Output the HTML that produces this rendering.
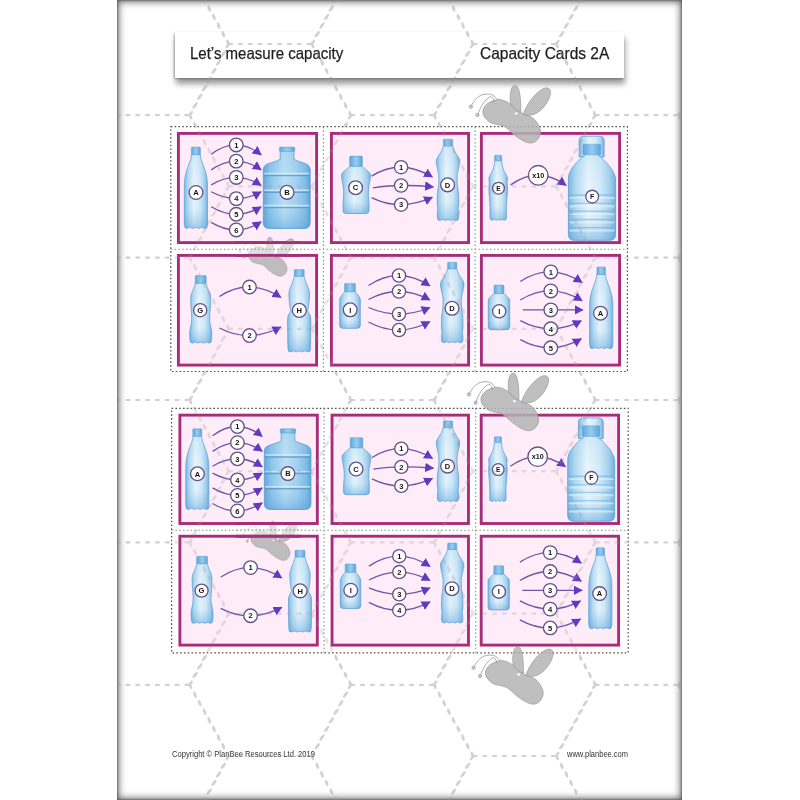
<!DOCTYPE html>
<html><head><meta charset="utf-8"><style>
html,body{margin:0;padding:0;background:#fff;width:800px;height:800px;overflow:hidden}
body{position:relative;font-family:"Liberation Sans",sans-serif}
.page{position:absolute;left:117px;top:0;width:565px;height:800px;background:#fff;box-shadow:inset 0 0 7px 2px rgba(0,0,0,.55),inset 0 0 2px 1px rgba(0,0,0,.3)}
.title{position:absolute;left:174.5px;top:31.5px;width:449.5px;height:46px;background:#fff;box-shadow:1px 6px 6px rgba(0,0,0,.4),-1px 1px 2px rgba(0,0,0,.28)}
.t{position:absolute;font-size:16.5px;color:#1e1e1e;-webkit-text-stroke:0.25px #1e1e1e;white-space:nowrap;line-height:1;transform-origin:0 0}
.f{position:absolute;font-size:8.5px;color:#333;white-space:nowrap;line-height:1;transform-origin:0 0}
svg{position:absolute;left:0;top:0}
#w{position:absolute;left:0;top:0;width:800px;height:800px;filter:blur(0.35px)}
</style></head><body><div id="w">
<div class="page"></div>
<div class="title"></div>
<div class="t" style="left:189.5px;top:45px;transform:scaleX(0.91)">Let’s measure capacity</div>
<div class="t" style="left:480px;top:45px;transform:scaleX(0.94)">Capacity Cards 2A</div>
<div class="f" style="left:172px;top:750.3px;transform:scaleX(0.892)">Copyright © PlanBee Resources Ltd. 2019</div>
<div class="f" style="left:567px;top:750.3px;transform:scaleX(0.885)">www.planbee.com</div>
<svg width="800" height="800" viewBox="0 0 800 800" font-family="Liberation Sans, sans-serif">
<defs>
<linearGradient id="bg" x1="0" x2="1" y1="0" y2="0">
<stop offset="0" stop-color="#7ab7e1"/><stop offset="0.16" stop-color="#b4daf2"/><stop offset="0.42" stop-color="#e8f5fc"/><stop offset="0.68" stop-color="#d2eaf8"/><stop offset="0.88" stop-color="#a3cfed"/><stop offset="1" stop-color="#72b1de"/>
</linearGradient>
<linearGradient id="jg" x1="0" x2="1" y1="0" y2="0">
<stop offset="0" stop-color="#62a6d9"/><stop offset="0.15" stop-color="#8cc5eb"/><stop offset="0.45" stop-color="#bde0f5"/><stop offset="0.7" stop-color="#a4d1ef"/><stop offset="0.9" stop-color="#80bde7"/><stop offset="1" stop-color="#5ca2d7"/>
</linearGradient>
<linearGradient id="bv" x1="0" x2="0" y1="0" y2="1">
<stop offset="0" stop-color="#6fb2e0" stop-opacity="0.15"/><stop offset="0.35" stop-color="#6fb2e0" stop-opacity="0"/><stop offset="0.75" stop-color="#6fb2e0" stop-opacity="0.05"/><stop offset="1" stop-color="#4a9ad6" stop-opacity="0.45"/>
</linearGradient>
<linearGradient id="cg" x1="0" x2="1" y1="0" y2="0">
<stop offset="0" stop-color="#5ea7dc"/><stop offset="0.5" stop-color="#98cdef"/><stop offset="1" stop-color="#5aa4da"/>
</linearGradient>
<marker id="ah" markerUnits="userSpaceOnUse" markerWidth="10" markerHeight="10" refX="7.6" refY="4.5" orient="auto" viewBox="0 0 9 9">
<path d="M0 0.2L8 4.5L0 8.8Z" fill="#6338c2"/>
</marker>
<g id="blk"><rect x="178.4" y="133.4" width="138.2" height="109.2" fill="#feecf8" stroke="#a82d78" stroke-width="2.9"/><rect x="331.4" y="133.4" width="137.2" height="109.2" fill="#feecf8" stroke="#a82d78" stroke-width="2.9"/><rect x="481.4" y="133.4" width="138.2" height="109.2" fill="#feecf8" stroke="#a82d78" stroke-width="2.9"/><rect x="178.4" y="255.4" width="138.2" height="109.7" fill="#feecf8" stroke="#a82d78" stroke-width="2.9"/><rect x="331.4" y="255.4" width="137.2" height="109.7" fill="#feecf8" stroke="#a82d78" stroke-width="2.9"/><rect x="481.4" y="255.4" width="138.2" height="109.7" fill="#feecf8" stroke="#a82d78" stroke-width="2.9"/><path d="M191.30 154.50 C191.27 155.08 191.35 156.75 191.10 158.00 C190.85 159.25 190.30 160.58 189.80 162.00 C189.30 163.42 188.62 165.08 188.10 166.50 C187.58 167.92 187.13 169.10 186.70 170.50 C186.27 171.90 185.82 173.48 185.50 174.90 C185.18 176.32 184.98 177.58 184.80 179.00 C184.62 180.42 184.48 179.90 184.40 183.40 C184.32 186.90 184.32 193.57 184.30 200.00 C184.28 206.43 184.27 217.75 184.30 222.00 C184.33 226.25 184.47 224.92 184.50 225.50 Q184.50 228.40 187.00 228.40 Q189.97 226.20 192.93 228.40 Q195.90 226.20 198.87 228.40 Q201.83 226.20 204.80 228.40 Q207.30 228.40 207.30 225.50 C207.33 224.92 207.47 226.25 207.50 222.00 C207.53 217.75 207.52 206.43 207.50 200.00 C207.48 193.57 207.48 186.90 207.40 183.40 C207.32 179.90 207.18 180.42 207.00 179.00 C206.82 177.58 206.62 176.32 206.30 174.90 C205.98 173.48 205.53 171.90 205.10 170.50 C204.67 169.10 204.22 167.92 203.70 166.50 C203.18 165.08 202.50 163.42 202.00 162.00 C201.50 160.58 200.95 159.25 200.70 158.00 C200.45 156.75 200.53 155.08 200.50 154.50 Z" fill="url(#bg)" stroke="#5d9fd1" stroke-width="0.75"/><path d="M191.30 154.50 C191.27 155.08 191.35 156.75 191.10 158.00 C190.85 159.25 190.30 160.58 189.80 162.00 C189.30 163.42 188.62 165.08 188.10 166.50 C187.58 167.92 187.13 169.10 186.70 170.50 C186.27 171.90 185.82 173.48 185.50 174.90 C185.18 176.32 184.98 177.58 184.80 179.00 C184.62 180.42 184.48 179.90 184.40 183.40 C184.32 186.90 184.32 193.57 184.30 200.00 C184.28 206.43 184.27 217.75 184.30 222.00 C184.33 226.25 184.47 224.92 184.50 225.50 Q184.50 228.40 187.00 228.40 Q189.97 226.20 192.93 228.40 Q195.90 226.20 198.87 228.40 Q201.83 226.20 204.80 228.40 Q207.30 228.40 207.30 225.50 C207.33 224.92 207.47 226.25 207.50 222.00 C207.53 217.75 207.52 206.43 207.50 200.00 C207.48 193.57 207.48 186.90 207.40 183.40 C207.32 179.90 207.18 180.42 207.00 179.00 C206.82 177.58 206.62 176.32 206.30 174.90 C205.98 173.48 205.53 171.90 205.10 170.50 C204.67 169.10 204.22 167.92 203.70 166.50 C203.18 165.08 202.50 163.42 202.00 162.00 C201.50 160.58 200.95 159.25 200.70 158.00 C200.45 156.75 200.53 155.08 200.50 154.50 Z" fill="url(#bv)"/><rect x="191.40" y="147.10" width="9.00" height="7.60" rx="0.8" fill="url(#cg)" stroke="#5a9fd2" stroke-width="0.5"/><path d="M280.2 150 L280.2 159.2 C278.2 160.5 275.2 161.5 272.2 162.5 C267.3 163.8 263.3 165 263.3 170 L263.3 222.4 Q263.3 228.4 269.3 228.4 L304.2 228.4 Q310.2 228.4 310.2 222.4 L310.2 170 C310.2 165 306.2 163.8 302.0 162.5 C299.0 161.5 296.0 160.5 294.0 159.2 L294.0 150 Z" fill="url(#jg)" stroke="#5a9cd0" stroke-width="0.8"/><path d="M280.2 150 L280.2 159.2 C278.2 160.5 275.2 161.5 272.2 162.5 C267.3 163.8 263.3 165 263.3 170 L263.3 222.4 Q263.3 228.4 269.3 228.4 L304.2 228.4 Q310.2 228.4 310.2 222.4 L310.2 170 C310.2 165 306.2 163.8 302.0 162.5 C299.0 161.5 296.0 160.5 294.0 159.2 L294.0 150 Z" fill="url(#bv)"/><rect x="279.4" y="147.1" width="15.4" height="4.4" rx="1.2" fill="url(#cg)" stroke="#5a9fd2" stroke-width="0.5"/><path d="M263.9 175.6H309.6" stroke="#4a92c8" stroke-width="1.5" opacity="0.7"/><path d="M264.3 173.6H309.2" stroke="#e6f4fc" stroke-width="1.6" opacity="0.65"/><path d="M263.9 192.2H309.6" stroke="#4a92c8" stroke-width="1.5" opacity="0.7"/><path d="M264.3 190.2H309.2" stroke="#e6f4fc" stroke-width="1.6" opacity="0.65"/><path d="M263.9 207.6H309.6" stroke="#4a92c8" stroke-width="1.5" opacity="0.7"/><path d="M264.3 205.6H309.2" stroke="#e6f4fc" stroke-width="1.6" opacity="0.65"/><circle cx="196.00" cy="192.50" r="6.90" fill="#fff" stroke="#65538a" stroke-width="1.35"/><text x="196.00" y="195.24" font-size="7.6" font-weight="bold" text-anchor="middle" fill="#111">A</text><circle cx="287.00" cy="192.30" r="6.90" fill="#fff" stroke="#65538a" stroke-width="1.35"/><text x="287.00" y="195.04" font-size="7.6" font-weight="bold" text-anchor="middle" fill="#111">B</text><path d="M211.25 154.25Q236.25 135.23 261.25 154.90" fill="none" stroke="#7054aa" stroke-width="1.35" marker-end="url(#ah)"/><circle cx="236.25" cy="144.90" r="6.80" fill="#fff" stroke="#65538a" stroke-width="1.35"/><text x="236.25" y="147.64" font-size="7.6" font-weight="bold" text-anchor="middle" fill="#111">1</text><path d="M211.25 169.90Q236.25 152.30 261.25 169.90" fill="none" stroke="#7054aa" stroke-width="1.35" marker-end="url(#ah)"/><circle cx="236.25" cy="161.10" r="6.80" fill="#fff" stroke="#65538a" stroke-width="1.35"/><text x="236.25" y="163.84" font-size="7.6" font-weight="bold" text-anchor="middle" fill="#111">2</text><path d="M211.25 184.90Q236.25 169.60 261.25 185.50" fill="none" stroke="#7054aa" stroke-width="1.35" marker-end="url(#ah)"/><circle cx="236.25" cy="177.40" r="6.80" fill="#fff" stroke="#65538a" stroke-width="1.35"/><text x="236.25" y="180.14" font-size="7.6" font-weight="bold" text-anchor="middle" fill="#111">3</text><path d="M211.25 191.75Q236.25 205.45 261.25 191.75" fill="none" stroke="#7054aa" stroke-width="1.35" marker-end="url(#ah)"/><circle cx="236.25" cy="198.60" r="6.80" fill="#fff" stroke="#65538a" stroke-width="1.35"/><text x="236.25" y="201.34" font-size="7.6" font-weight="bold" text-anchor="middle" fill="#111">4</text><path d="M211.25 206.75Q236.25 221.75 261.25 206.75" fill="none" stroke="#7054aa" stroke-width="1.35" marker-end="url(#ah)"/><circle cx="236.25" cy="214.25" r="6.80" fill="#fff" stroke="#65538a" stroke-width="1.35"/><text x="236.25" y="216.99" font-size="7.6" font-weight="bold" text-anchor="middle" fill="#111">5</text><path d="M211.25 222.40Q236.25 237.73 261.25 221.75" fill="none" stroke="#7054aa" stroke-width="1.35" marker-end="url(#ah)"/><circle cx="236.25" cy="229.90" r="6.80" fill="#fff" stroke="#65538a" stroke-width="1.35"/><text x="236.25" y="232.64" font-size="7.6" font-weight="bold" text-anchor="middle" fill="#111">6</text><path d="M349.70 166.20 C349.22 166.67 348.12 167.73 346.80 169.00 C345.48 170.27 342.60 171.97 341.80 173.80 C341.00 175.63 341.73 177.63 342.00 180.00 C342.27 182.37 343.13 185.33 343.40 188.00 C343.67 190.67 343.67 193.33 343.60 196.00 C343.53 198.67 343.10 201.83 343.00 204.00 C342.90 206.17 343.00 208.17 343.00 209.00 L343.00 210.50 Q343.00 213.50 346.00 213.50 L366.00 213.50 Q369.00 213.50 369.00 210.50 L369.00 209.00 C369.00 208.17 369.10 206.17 369.00 204.00 C368.90 201.83 368.47 198.67 368.40 196.00 C368.33 193.33 368.33 190.67 368.60 188.00 C368.87 185.33 369.73 182.37 370.00 180.00 C370.27 177.63 371.00 175.63 370.20 173.80 C369.40 171.97 366.52 170.27 365.20 169.00 C363.88 167.73 362.78 166.67 362.30 166.20 Z" fill="url(#bg)" stroke="#5d9fd1" stroke-width="0.75"/><path d="M349.70 166.20 C349.22 166.67 348.12 167.73 346.80 169.00 C345.48 170.27 342.60 171.97 341.80 173.80 C341.00 175.63 341.73 177.63 342.00 180.00 C342.27 182.37 343.13 185.33 343.40 188.00 C343.67 190.67 343.67 193.33 343.60 196.00 C343.53 198.67 343.10 201.83 343.00 204.00 C342.90 206.17 343.00 208.17 343.00 209.00 L343.00 210.50 Q343.00 213.50 346.00 213.50 L366.00 213.50 Q369.00 213.50 369.00 210.50 L369.00 209.00 C369.00 208.17 369.10 206.17 369.00 204.00 C368.90 201.83 368.47 198.67 368.40 196.00 C368.33 193.33 368.33 190.67 368.60 188.00 C368.87 185.33 369.73 182.37 370.00 180.00 C370.27 177.63 371.00 175.63 370.20 173.80 C369.40 171.97 366.52 170.27 365.20 169.00 C363.88 167.73 362.78 166.67 362.30 166.20 Z" fill="url(#bv)"/><rect x="349.65" y="156.10" width="12.70" height="10.10" rx="0.8" fill="url(#cg)" stroke="#5a9fd2" stroke-width="0.5"/><path d="M443.50 145.50 C443.17 146.40 442.35 149.17 441.50 150.90 C440.65 152.63 439.27 154.30 438.40 155.90 C437.52 157.50 436.47 158.67 436.25 160.50 C436.03 162.33 436.69 164.60 437.10 166.90 C437.51 169.20 438.43 171.35 438.70 174.30 C438.97 177.25 438.92 181.33 438.70 184.60 C438.48 187.87 437.63 190.52 437.40 193.90 C437.17 197.28 437.23 202.40 437.30 204.90 C437.37 207.40 437.80 207.40 437.80 208.90 C437.80 210.40 437.37 212.57 437.30 213.90 C437.23 215.23 437.38 216.40 437.40 216.90 Q437.40 220.50 439.90 220.50 Q442.60 218.30 445.30 220.50 Q448.00 218.30 450.70 220.50 Q453.40 218.30 456.10 220.50 Q458.60 220.50 458.60 216.90 C458.62 216.40 458.77 215.23 458.70 213.90 C458.63 212.57 458.20 210.40 458.20 208.90 C458.20 207.40 458.63 207.40 458.70 204.90 C458.77 202.40 458.83 197.28 458.60 193.90 C458.37 190.52 457.52 187.87 457.30 184.60 C457.08 181.33 457.03 177.25 457.30 174.30 C457.57 171.35 458.49 169.20 458.90 166.90 C459.31 164.60 459.97 162.33 459.75 160.50 C459.53 158.67 458.48 157.50 457.60 155.90 C456.73 154.30 455.35 152.63 454.50 150.90 C453.65 149.17 452.83 146.40 452.50 145.50 Z" fill="url(#bg)" stroke="#5d9fd1" stroke-width="0.75"/><path d="M443.50 145.50 C443.17 146.40 442.35 149.17 441.50 150.90 C440.65 152.63 439.27 154.30 438.40 155.90 C437.52 157.50 436.47 158.67 436.25 160.50 C436.03 162.33 436.69 164.60 437.10 166.90 C437.51 169.20 438.43 171.35 438.70 174.30 C438.97 177.25 438.92 181.33 438.70 184.60 C438.48 187.87 437.63 190.52 437.40 193.90 C437.17 197.28 437.23 202.40 437.30 204.90 C437.37 207.40 437.80 207.40 437.80 208.90 C437.80 210.40 437.37 212.57 437.30 213.90 C437.23 215.23 437.38 216.40 437.40 216.90 Q437.40 220.50 439.90 220.50 Q442.60 218.30 445.30 220.50 Q448.00 218.30 450.70 220.50 Q453.40 218.30 456.10 220.50 Q458.60 220.50 458.60 216.90 C458.62 216.40 458.77 215.23 458.70 213.90 C458.63 212.57 458.20 210.40 458.20 208.90 C458.20 207.40 458.63 207.40 458.70 204.90 C458.77 202.40 458.83 197.28 458.60 193.90 C458.37 190.52 457.52 187.87 457.30 184.60 C457.08 181.33 457.03 177.25 457.30 174.30 C457.57 171.35 458.49 169.20 458.90 166.90 C459.31 164.60 459.97 162.33 459.75 160.50 C459.53 158.67 458.48 157.50 457.60 155.90 C456.73 154.30 455.35 152.63 454.50 150.90 C453.65 149.17 452.83 146.40 452.50 145.50 Z" fill="url(#bv)"/><rect x="443.35" y="139.20" width="9.30" height="7.00" rx="0.8" fill="url(#cg)" stroke="#5a9fd2" stroke-width="0.5"/><circle cx="355.60" cy="187.70" r="6.90" fill="#fff" stroke="#65538a" stroke-width="1.35"/><text x="355.60" y="190.44" font-size="7.6" font-weight="bold" text-anchor="middle" fill="#111">C</text><circle cx="447.60" cy="184.80" r="6.90" fill="#fff" stroke="#65538a" stroke-width="1.35"/><text x="447.60" y="187.54" font-size="7.6" font-weight="bold" text-anchor="middle" fill="#111">D</text><path d="M371.60 176.10Q400.15 157.85 432.50 177.00" fill="none" stroke="#7054aa" stroke-width="1.35" marker-end="url(#ah)"/><circle cx="401.10" cy="167.20" r="6.60" fill="#fff" stroke="#65538a" stroke-width="1.35"/><text x="401.10" y="169.94" font-size="7.6" font-weight="bold" text-anchor="middle" fill="#111">1</text><path d="M373.00 187.80Q398.95 183.65 433.50 186.90" fill="none" stroke="#7054aa" stroke-width="1.35" marker-end="url(#ah)"/><circle cx="401.10" cy="185.50" r="6.60" fill="#fff" stroke="#65538a" stroke-width="1.35"/><text x="401.10" y="188.24" font-size="7.6" font-weight="bold" text-anchor="middle" fill="#111">2</text><path d="M371.60 197.60Q400.15 212.00 432.50 197.20" fill="none" stroke="#7054aa" stroke-width="1.35" marker-end="url(#ah)"/><circle cx="401.10" cy="204.70" r="6.60" fill="#fff" stroke="#65538a" stroke-width="1.35"/><text x="401.10" y="207.44" font-size="7.6" font-weight="bold" text-anchor="middle" fill="#111">3</text><path d="M494.60 160.70 C494.53 161.42 494.43 163.62 494.20 165.00 C493.97 166.38 493.63 167.75 493.20 169.00 C492.77 170.25 492.20 171.33 491.60 172.50 C491.00 173.67 490.05 174.92 489.60 176.00 C489.15 177.08 488.95 178.00 488.90 179.00 C488.85 180.00 489.30 180.50 489.30 182.00 C489.30 183.50 488.92 185.83 488.90 188.00 C488.88 190.17 489.02 192.17 489.20 195.00 C489.38 197.83 489.87 201.83 490.00 205.00 C490.13 208.17 490.02 211.92 490.00 214.00 C489.98 216.08 489.92 216.92 489.90 217.50 Q489.90 220.30 492.40 220.30 Q494.33 218.10 496.27 220.30 Q498.20 218.10 500.13 220.30 Q502.07 218.10 504.00 220.30 Q506.50 220.30 506.50 217.50 C506.48 216.92 506.42 216.08 506.40 214.00 C506.38 211.92 506.27 208.17 506.40 205.00 C506.53 201.83 507.02 197.83 507.20 195.00 C507.38 192.17 507.52 190.17 507.50 188.00 C507.48 185.83 507.10 183.50 507.10 182.00 C507.10 180.50 507.55 180.00 507.50 179.00 C507.45 178.00 507.25 177.08 506.80 176.00 C506.35 174.92 505.40 173.67 504.80 172.50 C504.20 171.33 503.63 170.25 503.20 169.00 C502.77 167.75 502.43 166.38 502.20 165.00 C501.97 163.62 501.87 161.42 501.80 160.70 Z" fill="url(#bg)" stroke="#5d9fd1" stroke-width="0.75"/><path d="M494.60 160.70 C494.53 161.42 494.43 163.62 494.20 165.00 C493.97 166.38 493.63 167.75 493.20 169.00 C492.77 170.25 492.20 171.33 491.60 172.50 C491.00 173.67 490.05 174.92 489.60 176.00 C489.15 177.08 488.95 178.00 488.90 179.00 C488.85 180.00 489.30 180.50 489.30 182.00 C489.30 183.50 488.92 185.83 488.90 188.00 C488.88 190.17 489.02 192.17 489.20 195.00 C489.38 197.83 489.87 201.83 490.00 205.00 C490.13 208.17 490.02 211.92 490.00 214.00 C489.98 216.08 489.92 216.92 489.90 217.50 Q489.90 220.30 492.40 220.30 Q494.33 218.10 496.27 220.30 Q498.20 218.10 500.13 220.30 Q502.07 218.10 504.00 220.30 Q506.50 220.30 506.50 217.50 C506.48 216.92 506.42 216.08 506.40 214.00 C506.38 211.92 506.27 208.17 506.40 205.00 C506.53 201.83 507.02 197.83 507.20 195.00 C507.38 192.17 507.52 190.17 507.50 188.00 C507.48 185.83 507.10 183.50 507.10 182.00 C507.10 180.50 507.55 180.00 507.50 179.00 C507.45 178.00 507.25 177.08 506.80 176.00 C506.35 174.92 505.40 173.67 504.80 172.50 C504.20 171.33 503.63 170.25 503.20 169.00 C502.77 167.75 502.43 166.38 502.20 165.00 C501.97 163.62 501.87 161.42 501.80 160.70 Z" fill="url(#bv)"/><rect x="494.65" y="155.20" width="7.10" height="5.50" rx="0.8" fill="url(#cg)" stroke="#5a9fd2" stroke-width="0.5"/><path d="M579.2 157 L579.2 140.5 Q579.2 136.2 583.5 136.2 L599.8 136.2 Q604.1 136.2 604.1 140.5 L604.1 157 Z" fill="url(#bg)" stroke="#5c9fd0" stroke-width="0.8"/><path d="M584.5 152 L584.5 155.8 C581 158 574 164.5 570.6 170.5 C569 173.5 568.4 176 568.4 180 L568.4 234.3 Q568.4 240.3 574.4 240.3 L609.6 240.3 Q615.6 240.3 615.6 234.3 L615.6 180 C615.6 176 614 173.5 612.4 170.5 C609 164.5 602 158 598.5 155.8 L598.5 152 Z" fill="url(#bg)" stroke="#5d9fd1" stroke-width="0.8"/><path d="M584.5 152 L584.5 155.8 C581 158 574 164.5 570.6 170.5 C569 173.5 568.4 176 568.4 180 L568.4 234.3 Q568.4 240.3 574.4 240.3 L609.6 240.3 Q615.6 240.3 615.6 234.3 L615.6 180 C615.6 176 614 173.5 612.4 170.5 C609 164.5 602 158 598.5 155.8 L598.5 152 Z" fill="url(#bv)"/><rect x="583.0" y="144.2" width="17.6" height="10.6" rx="1.2" fill="url(#cg)" stroke="#5a9fd2" stroke-width="0.5"/><path d="M569.0 195.0H615.0" stroke="#6aaedb" stroke-width="1.4" opacity="0.55"/><path d="M569.6 198.0H614.4" stroke="#eef8fe" stroke-width="1.6" opacity="0.6"/><path d="M569.0 203.4H615.0" stroke="#6aaedb" stroke-width="1.4" opacity="0.55"/><path d="M569.6 206.4H614.4" stroke="#eef8fe" stroke-width="1.6" opacity="0.6"/><path d="M569.0 211.2H615.0" stroke="#6aaedb" stroke-width="1.4" opacity="0.55"/><path d="M569.6 214.2H614.4" stroke="#eef8fe" stroke-width="1.6" opacity="0.6"/><path d="M569.0 219.5H615.0" stroke="#6aaedb" stroke-width="1.4" opacity="0.55"/><path d="M569.6 222.5H614.4" stroke="#eef8fe" stroke-width="1.6" opacity="0.6"/><path d="M569.0 227.6H615.0" stroke="#6aaedb" stroke-width="1.4" opacity="0.55"/><path d="M569.6 230.6H614.4" stroke="#eef8fe" stroke-width="1.6" opacity="0.6"/><circle cx="498.50" cy="188.20" r="5.90" fill="#fff" stroke="#65538a" stroke-width="1.35"/><text x="498.50" y="190.58" font-size="6.6" font-weight="bold" text-anchor="middle" fill="#111">E</text><circle cx="592.20" cy="196.60" r="6.40" fill="#fff" stroke="#65538a" stroke-width="1.35"/><text x="592.20" y="199.12" font-size="7.0" font-weight="bold" text-anchor="middle" fill="#111">F</text><path d="M510.70 184.90Q537.95 165.45 566.20 185.40" fill="none" stroke="#7054aa" stroke-width="1.35" marker-end="url(#ah)"/><circle cx="538.20" cy="175.30" r="9.80" fill="#fff" stroke="#65538a" stroke-width="1.35"/><text x="538.20" y="177.89" font-size="7.2" font-weight="bold" text-anchor="middle" fill="#111">x10</text><path d="M195.40 283.00 C195.15 283.83 194.52 286.33 193.90 288.00 C193.28 289.67 192.22 291.50 191.70 293.00 C191.18 294.50 190.93 295.00 190.80 297.00 C190.67 299.00 190.75 301.17 190.90 305.00 C191.05 308.83 191.88 315.67 191.70 320.00 C191.52 324.33 190.12 328.00 189.80 331.00 C189.48 334.00 189.75 336.42 189.80 338.00 C189.85 339.58 190.05 340.08 190.10 340.50 Q190.10 343.10 192.60 343.10 Q195.30 340.90 198.00 343.10 Q200.70 340.90 203.40 343.10 Q206.10 340.90 208.80 343.10 Q211.30 343.10 211.30 340.50 C211.35 340.08 211.55 339.58 211.60 338.00 C211.65 336.42 211.92 334.00 211.60 331.00 C211.28 328.00 209.88 324.33 209.70 320.00 C209.52 315.67 210.35 308.83 210.50 305.00 C210.65 301.17 210.73 299.00 210.60 297.00 C210.47 295.00 210.22 294.50 209.70 293.00 C209.18 291.50 208.12 289.67 207.50 288.00 C206.88 286.33 206.25 283.83 206.00 283.00 Z" fill="url(#bg)" stroke="#5d9fd1" stroke-width="0.75"/><path d="M195.40 283.00 C195.15 283.83 194.52 286.33 193.90 288.00 C193.28 289.67 192.22 291.50 191.70 293.00 C191.18 294.50 190.93 295.00 190.80 297.00 C190.67 299.00 190.75 301.17 190.90 305.00 C191.05 308.83 191.88 315.67 191.70 320.00 C191.52 324.33 190.12 328.00 189.80 331.00 C189.48 334.00 189.75 336.42 189.80 338.00 C189.85 339.58 190.05 340.08 190.10 340.50 Q190.10 343.10 192.60 343.10 Q195.30 340.90 198.00 343.10 Q200.70 340.90 203.40 343.10 Q206.10 340.90 208.80 343.10 Q211.30 343.10 211.30 340.50 C211.35 340.08 211.55 339.58 211.60 338.00 C211.65 336.42 211.92 334.00 211.60 331.00 C211.28 328.00 209.88 324.33 209.70 320.00 C209.52 315.67 210.35 308.83 210.50 305.00 C210.65 301.17 210.73 299.00 210.60 297.00 C210.47 295.00 210.22 294.50 209.70 293.00 C209.18 291.50 208.12 289.67 207.50 288.00 C206.88 286.33 206.25 283.83 206.00 283.00 Z" fill="url(#bv)"/><rect x="195.20" y="275.60" width="11.00" height="7.60" rx="0.8" fill="url(#cg)" stroke="#5a9fd2" stroke-width="0.5"/><path d="M294.40 276.10 C294.10 277.08 293.30 280.02 292.60 282.00 C291.90 283.98 290.80 286.25 290.20 288.00 C289.60 289.75 289.17 290.50 289.00 292.50 C288.83 294.50 289.03 297.58 289.20 300.00 C289.37 302.42 289.80 305.10 290.00 307.00 C290.20 308.90 290.77 309.70 290.40 311.40 C290.03 313.10 288.25 314.10 287.80 317.20 C287.35 320.30 287.68 325.37 287.70 330.00 C287.72 334.63 287.85 341.83 287.90 345.00 C287.95 348.17 287.98 348.33 288.00 349.00 Q288.00 351.90 290.50 351.90 Q293.40 349.70 296.30 351.90 Q299.20 349.70 302.10 351.90 Q305.00 349.70 307.90 351.90 Q310.40 351.90 310.40 349.00 C310.42 348.33 310.45 348.17 310.50 345.00 C310.55 341.83 310.68 334.63 310.70 330.00 C310.72 325.37 311.05 320.30 310.60 317.20 C310.15 314.10 308.37 313.10 308.00 311.40 C307.63 309.70 308.20 308.90 308.40 307.00 C308.60 305.10 309.03 302.42 309.20 300.00 C309.37 297.58 309.57 294.50 309.40 292.50 C309.23 290.50 308.80 289.75 308.20 288.00 C307.60 286.25 306.50 283.98 305.80 282.00 C305.10 280.02 304.30 277.08 304.00 276.10 Z" fill="url(#bg)" stroke="#5d9fd1" stroke-width="0.75"/><path d="M294.40 276.10 C294.10 277.08 293.30 280.02 292.60 282.00 C291.90 283.98 290.80 286.25 290.20 288.00 C289.60 289.75 289.17 290.50 289.00 292.50 C288.83 294.50 289.03 297.58 289.20 300.00 C289.37 302.42 289.80 305.10 290.00 307.00 C290.20 308.90 290.77 309.70 290.40 311.40 C290.03 313.10 288.25 314.10 287.80 317.20 C287.35 320.30 287.68 325.37 287.70 330.00 C287.72 334.63 287.85 341.83 287.90 345.00 C287.95 348.17 287.98 348.33 288.00 349.00 Q288.00 351.90 290.50 351.90 Q293.40 349.70 296.30 351.90 Q299.20 349.70 302.10 351.90 Q305.00 349.70 307.90 351.90 Q310.40 351.90 310.40 349.00 C310.42 348.33 310.45 348.17 310.50 345.00 C310.55 341.83 310.68 334.63 310.70 330.00 C310.72 325.37 311.05 320.30 310.60 317.20 C310.15 314.10 308.37 313.10 308.00 311.40 C307.63 309.70 308.20 308.90 308.40 307.00 C308.60 305.10 309.03 302.42 309.20 300.00 C309.37 297.58 309.57 294.50 309.40 292.50 C309.23 290.50 308.80 289.75 308.20 288.00 C307.60 286.25 306.50 283.98 305.80 282.00 C305.10 280.02 304.30 277.08 304.00 276.10 Z" fill="url(#bv)"/><rect x="294.20" y="269.60" width="10.00" height="6.70" rx="0.8" fill="url(#cg)" stroke="#5a9fd2" stroke-width="0.5"/><circle cx="200.20" cy="310.20" r="6.60" fill="#fff" stroke="#65538a" stroke-width="1.35"/><text x="200.20" y="312.94" font-size="7.6" font-weight="bold" text-anchor="middle" fill="#111">G</text><circle cx="299.30" cy="310.40" r="7.00" fill="#fff" stroke="#65538a" stroke-width="1.35"/><text x="299.30" y="313.14" font-size="7.6" font-weight="bold" text-anchor="middle" fill="#111">H</text><path d="M219.50 296.50Q248.75 277.00 281.00 297.50" fill="none" stroke="#7054aa" stroke-width="1.35" marker-end="url(#ah)"/><circle cx="249.50" cy="287.00" r="6.80" fill="#fff" stroke="#65538a" stroke-width="1.35"/><text x="249.50" y="289.74" font-size="7.6" font-weight="bold" text-anchor="middle" fill="#111">1</text><path d="M219.50 328.00Q248.75 343.50 281.00 327.00" fill="none" stroke="#7054aa" stroke-width="1.35" marker-end="url(#ah)"/><circle cx="249.50" cy="335.50" r="6.80" fill="#fff" stroke="#65538a" stroke-width="1.35"/><text x="249.50" y="338.24" font-size="7.6" font-weight="bold" text-anchor="middle" fill="#111">2</text><path d="M344.80 291.50 C344.40 292.00 343.18 293.42 342.40 294.50 C341.62 295.58 340.55 296.92 340.10 298.00 C339.65 299.08 339.77 297.33 339.70 301.00 C339.63 304.67 339.70 316.33 339.70 320.00 C339.70 323.67 339.70 322.50 339.70 323.00 L339.70 325.30 Q339.70 328.30 342.70 328.30 L357.30 328.30 Q360.30 328.30 360.30 325.30 L360.30 323.00 C360.30 322.50 360.30 323.67 360.30 320.00 C360.30 316.33 360.37 304.67 360.30 301.00 C360.23 297.33 360.35 299.08 359.90 298.00 C359.45 296.92 358.38 295.58 357.60 294.50 C356.82 293.42 355.60 292.00 355.20 291.50 Z" fill="url(#bg)" stroke="#5d9fd1" stroke-width="0.75"/><path d="M344.80 291.50 C344.40 292.00 343.18 293.42 342.40 294.50 C341.62 295.58 340.55 296.92 340.10 298.00 C339.65 299.08 339.77 297.33 339.70 301.00 C339.63 304.67 339.70 316.33 339.70 320.00 C339.70 323.67 339.70 322.50 339.70 323.00 L339.70 325.30 Q339.70 328.30 342.70 328.30 L357.30 328.30 Q360.30 328.30 360.30 325.30 L360.30 323.00 C360.30 322.50 360.30 323.67 360.30 320.00 C360.30 316.33 360.37 304.67 360.30 301.00 C360.23 297.33 360.35 299.08 359.90 298.00 C359.45 296.92 358.38 295.58 357.60 294.50 C356.82 293.42 355.60 292.00 355.20 291.50 Z" fill="url(#bv)"/><rect x="344.60" y="283.40" width="10.80" height="8.30" rx="0.8" fill="url(#cg)" stroke="#5a9fd2" stroke-width="0.5"/><path d="M447.70 268.60 C447.37 269.50 446.55 272.27 445.70 274.00 C444.85 275.73 443.47 277.40 442.60 279.00 C441.72 280.60 440.67 281.77 440.45 283.60 C440.23 285.43 440.89 287.70 441.30 290.00 C441.71 292.30 442.63 294.45 442.90 297.40 C443.17 300.35 443.12 304.43 442.90 307.70 C442.68 310.97 441.83 313.62 441.60 317.00 C441.37 320.38 441.43 325.50 441.50 328.00 C441.57 330.50 442.00 330.50 442.00 332.00 C442.00 333.50 441.57 335.67 441.50 337.00 C441.43 338.33 441.58 339.50 441.60 340.00 Q441.60 342.80 444.10 342.80 Q446.80 340.60 449.50 342.80 Q452.20 340.60 454.90 342.80 Q457.60 340.60 460.30 342.80 Q462.80 342.80 462.80 340.00 C462.82 339.50 462.97 338.33 462.90 337.00 C462.83 335.67 462.40 333.50 462.40 332.00 C462.40 330.50 462.83 330.50 462.90 328.00 C462.97 325.50 463.03 320.38 462.80 317.00 C462.57 313.62 461.72 310.97 461.50 307.70 C461.28 304.43 461.23 300.35 461.50 297.40 C461.77 294.45 462.69 292.30 463.10 290.00 C463.51 287.70 464.17 285.43 463.95 283.60 C463.73 281.77 462.68 280.60 461.80 279.00 C460.93 277.40 459.55 275.73 458.70 274.00 C457.85 272.27 457.03 269.50 456.70 268.60 Z" fill="url(#bg)" stroke="#5d9fd1" stroke-width="0.75"/><path d="M447.70 268.60 C447.37 269.50 446.55 272.27 445.70 274.00 C444.85 275.73 443.47 277.40 442.60 279.00 C441.72 280.60 440.67 281.77 440.45 283.60 C440.23 285.43 440.89 287.70 441.30 290.00 C441.71 292.30 442.63 294.45 442.90 297.40 C443.17 300.35 443.12 304.43 442.90 307.70 C442.68 310.97 441.83 313.62 441.60 317.00 C441.37 320.38 441.43 325.50 441.50 328.00 C441.57 330.50 442.00 330.50 442.00 332.00 C442.00 333.50 441.57 335.67 441.50 337.00 C441.43 338.33 441.58 339.50 441.60 340.00 Q441.60 342.80 444.10 342.80 Q446.80 340.60 449.50 342.80 Q452.20 340.60 454.90 342.80 Q457.60 340.60 460.30 342.80 Q462.80 342.80 462.80 340.00 C462.82 339.50 462.97 338.33 462.90 337.00 C462.83 335.67 462.40 333.50 462.40 332.00 C462.40 330.50 462.83 330.50 462.90 328.00 C462.97 325.50 463.03 320.38 462.80 317.00 C462.57 313.62 461.72 310.97 461.50 307.70 C461.28 304.43 461.23 300.35 461.50 297.40 C461.77 294.45 462.69 292.30 463.10 290.00 C463.51 287.70 464.17 285.43 463.95 283.60 C463.73 281.77 462.68 280.60 461.80 279.00 C460.93 277.40 459.55 275.73 458.70 274.00 C457.85 272.27 457.03 269.50 456.70 268.60 Z" fill="url(#bv)"/><rect x="447.60" y="262.30" width="9.20" height="6.50" rx="0.8" fill="url(#cg)" stroke="#5a9fd2" stroke-width="0.5"/><circle cx="350.20" cy="309.80" r="6.90" fill="#fff" stroke="#65538a" stroke-width="1.35"/><text x="350.20" y="312.54" font-size="7.6" font-weight="bold" text-anchor="middle" fill="#111">I</text><circle cx="452.00" cy="308.30" r="6.90" fill="#fff" stroke="#65538a" stroke-width="1.35"/><text x="452.00" y="311.04" font-size="7.6" font-weight="bold" text-anchor="middle" fill="#111">D</text><path d="M368.50 285.50Q398.75 265.25 430.00 286.00" fill="none" stroke="#7054aa" stroke-width="1.35" marker-end="url(#ah)"/><circle cx="399.00" cy="275.50" r="6.60" fill="#fff" stroke="#65538a" stroke-width="1.35"/><text x="399.00" y="278.24" font-size="7.6" font-weight="bold" text-anchor="middle" fill="#111">1</text><path d="M368.50 299.50Q398.75 283.25 430.00 300.00" fill="none" stroke="#7054aa" stroke-width="1.35" marker-end="url(#ah)"/><circle cx="399.00" cy="291.50" r="6.60" fill="#fff" stroke="#65538a" stroke-width="1.35"/><text x="399.00" y="294.24" font-size="7.6" font-weight="bold" text-anchor="middle" fill="#111">2</text><path d="M368.50 307.50Q398.75 320.50 430.00 307.50" fill="none" stroke="#7054aa" stroke-width="1.35" marker-end="url(#ah)"/><circle cx="399.00" cy="314.00" r="6.60" fill="#fff" stroke="#65538a" stroke-width="1.35"/><text x="399.00" y="316.74" font-size="7.6" font-weight="bold" text-anchor="middle" fill="#111">3</text><path d="M368.50 322.00Q398.75 338.25 430.00 321.50" fill="none" stroke="#7054aa" stroke-width="1.35" marker-end="url(#ah)"/><circle cx="399.00" cy="330.00" r="6.60" fill="#fff" stroke="#65538a" stroke-width="1.35"/><text x="399.00" y="332.74" font-size="7.6" font-weight="bold" text-anchor="middle" fill="#111">4</text><path d="M494.00 293.40 C493.57 293.83 492.32 295.05 491.40 296.00 C490.48 296.95 489.02 298.10 488.50 299.10 C487.98 300.10 488.33 297.68 488.30 302.00 C488.27 306.32 488.30 321.17 488.30 325.00 L488.30 326.70 Q488.30 329.70 491.30 329.70 L506.70 329.70 Q509.70 329.70 509.70 326.70 L509.70 325.00 C509.70 321.17 509.73 306.32 509.70 302.00 C509.67 297.68 510.02 300.10 509.50 299.10 C508.98 298.10 507.52 296.95 506.60 296.00 C505.68 295.05 504.43 293.83 504.00 293.40 Z" fill="url(#bg)" stroke="#5d9fd1" stroke-width="0.75"/><path d="M494.00 293.40 C493.57 293.83 492.32 295.05 491.40 296.00 C490.48 296.95 489.02 298.10 488.50 299.10 C487.98 300.10 488.33 297.68 488.30 302.00 C488.27 306.32 488.30 321.17 488.30 325.00 L488.30 326.70 Q488.30 329.70 491.30 329.70 L506.70 329.70 Q509.70 329.70 509.70 326.70 L509.70 325.00 C509.70 321.17 509.73 306.32 509.70 302.00 C509.67 297.68 510.02 300.10 509.50 299.10 C508.98 298.10 507.52 296.95 506.60 296.00 C505.68 295.05 504.43 293.83 504.00 293.40 Z" fill="url(#bv)"/><rect x="494.05" y="285.10" width="9.90" height="8.50" rx="0.8" fill="url(#cg)" stroke="#5a9fd2" stroke-width="0.5"/><path d="M596.60 274.40 C596.57 274.98 596.65 276.65 596.40 277.90 C596.15 279.15 595.60 280.48 595.10 281.90 C594.60 283.32 593.92 284.98 593.40 286.40 C592.88 287.82 592.43 289.00 592.00 290.40 C591.57 291.80 591.12 293.38 590.80 294.80 C590.48 296.22 590.28 297.48 590.10 298.90 C589.92 300.32 589.78 299.80 589.70 303.30 C589.62 306.80 589.62 313.47 589.60 319.90 C589.58 326.33 589.57 337.65 589.60 341.90 C589.63 346.15 589.77 344.82 589.80 345.40 Q589.80 348.60 592.30 348.60 Q595.27 346.40 598.23 348.60 Q601.20 346.40 604.17 348.60 Q607.13 346.40 610.10 348.60 Q612.60 348.60 612.60 345.40 C612.63 344.82 612.77 346.15 612.80 341.90 C612.83 337.65 612.82 326.33 612.80 319.90 C612.78 313.47 612.78 306.80 612.70 303.30 C612.62 299.80 612.48 300.32 612.30 298.90 C612.12 297.48 611.92 296.22 611.60 294.80 C611.28 293.38 610.83 291.80 610.40 290.40 C609.97 289.00 609.52 287.82 609.00 286.40 C608.48 284.98 607.80 283.32 607.30 281.90 C606.80 280.48 606.25 279.15 606.00 277.90 C605.75 276.65 605.83 274.98 605.80 274.40 Z" fill="url(#bg)" stroke="#5d9fd1" stroke-width="0.75"/><path d="M596.60 274.40 C596.57 274.98 596.65 276.65 596.40 277.90 C596.15 279.15 595.60 280.48 595.10 281.90 C594.60 283.32 593.92 284.98 593.40 286.40 C592.88 287.82 592.43 289.00 592.00 290.40 C591.57 291.80 591.12 293.38 590.80 294.80 C590.48 296.22 590.28 297.48 590.10 298.90 C589.92 300.32 589.78 299.80 589.70 303.30 C589.62 306.80 589.62 313.47 589.60 319.90 C589.58 326.33 589.57 337.65 589.60 341.90 C589.63 346.15 589.77 344.82 589.80 345.40 Q589.80 348.60 592.30 348.60 Q595.27 346.40 598.23 348.60 Q601.20 346.40 604.17 348.60 Q607.13 346.40 610.10 348.60 Q612.60 348.60 612.60 345.40 C612.63 344.82 612.77 346.15 612.80 341.90 C612.83 337.65 612.82 326.33 612.80 319.90 C612.78 313.47 612.78 306.80 612.70 303.30 C612.62 299.80 612.48 300.32 612.30 298.90 C612.12 297.48 611.92 296.22 611.60 294.80 C611.28 293.38 610.83 291.80 610.40 290.40 C609.97 289.00 609.52 287.82 609.00 286.40 C608.48 284.98 607.80 283.32 607.30 281.90 C606.80 280.48 606.25 279.15 606.00 277.90 C605.75 276.65 605.83 274.98 605.80 274.40 Z" fill="url(#bv)"/><rect x="596.95" y="267.00" width="8.50" height="7.20" rx="0.8" fill="url(#cg)" stroke="#5a9fd2" stroke-width="0.5"/><circle cx="499.20" cy="311.30" r="6.60" fill="#fff" stroke="#65538a" stroke-width="1.35"/><text x="499.20" y="314.04" font-size="7.6" font-weight="bold" text-anchor="middle" fill="#111">I</text><circle cx="600.50" cy="313.20" r="6.90" fill="#fff" stroke="#65538a" stroke-width="1.35"/><text x="600.50" y="315.94" font-size="7.6" font-weight="bold" text-anchor="middle" fill="#111">A</text><path d="M520.30 281.50Q550.35 261.75 582.20 282.60" fill="none" stroke="#7054aa" stroke-width="1.35" marker-end="url(#ah)"/><circle cx="550.80" cy="271.90" r="6.80" fill="#fff" stroke="#65538a" stroke-width="1.35"/><text x="550.80" y="274.64" font-size="7.6" font-weight="bold" text-anchor="middle" fill="#111">1</text><path d="M520.30 300.00Q550.35 281.40 582.20 300.80" fill="none" stroke="#7054aa" stroke-width="1.35" marker-end="url(#ah)"/><circle cx="550.80" cy="290.90" r="6.80" fill="#fff" stroke="#65538a" stroke-width="1.35"/><text x="550.80" y="293.64" font-size="7.6" font-weight="bold" text-anchor="middle" fill="#111">2</text><path d="M522.80 309.90Q548.70 309.90 583.00 309.90" fill="none" stroke="#7054aa" stroke-width="1.35" marker-end="url(#ah)"/><circle cx="550.80" cy="309.90" r="6.80" fill="#fff" stroke="#65538a" stroke-width="1.35"/><text x="550.80" y="312.64" font-size="7.6" font-weight="bold" text-anchor="middle" fill="#111">3</text><path d="M520.30 320.60Q550.75 337.00 581.40 320.60" fill="none" stroke="#7054aa" stroke-width="1.35" marker-end="url(#ah)"/><circle cx="550.80" cy="328.80" r="6.80" fill="#fff" stroke="#65538a" stroke-width="1.35"/><text x="550.80" y="331.54" font-size="7.6" font-weight="bold" text-anchor="middle" fill="#111">4</text><path d="M520.30 339.60Q550.75 356.45 581.40 338.70" fill="none" stroke="#7054aa" stroke-width="1.35" marker-end="url(#ah)"/><circle cx="550.80" cy="347.80" r="6.80" fill="#fff" stroke="#65538a" stroke-width="1.35"/><text x="550.80" y="350.54" font-size="7.6" font-weight="bold" text-anchor="middle" fill="#111">5</text></g>
<g id="bee"><path d="M482.8 110.9 C484 105 489 101.5 497.1 99.6 C502 99 507 101.5 510.7 104.3 C512 104 514 110 520.8 112.1 C522 113.5 524 114.5 526.8 115.6 C533 116.5 538 122 540.4 129.9 C541.5 136 537 142.5 531.5 143 C526 143.5 518 138 512.5 133.4 C509 130 506 127.5 504.2 126.3 C500 124.8 497 124.5 494.7 124 C491 123 489 122 487.6 120.4 C484.5 118 482.5 114.5 482.8 110.9 Z" fill="#b4b4b4" fill-opacity="0.85" stroke="#9a9a9a" stroke-width="0.7"/><path d="M523.2 114.4 C526 106 533 95 541 90 C546 86.5 551 87.5 550.5 93 C550 100 543 110 536.3 113.3 C532 115.5 527 116 523.2 114.4 Z" fill="#b4b4b4" fill-opacity="0.85" stroke="#9a9a9a" stroke-width="0.7"/><path d="M510.7 104.3 C509 96 511 85.3 514.9 85.3 C519 85.3 521 95 520.8 112.1 C518 112 514 109 510.7 104.3 Z" fill="#b4b4b4" fill-opacity="0.85" stroke="#9a9a9a" stroke-width="0.7"/><path d="M470.9 106.7 C474 100 479 95 484 94.3 C489 93.5 494 94 497 99.6 M477.5 115 C480 108 484 100 490.5 96.6 C492 96.5 494 99 494.1 102" fill="none" stroke="#8a8a8a" stroke-width="0.7"/><ellipse cx="516.2" cy="113.4" rx="1.6" ry="1.2" fill="#fff" opacity="0.9"/><circle cx="470.9" cy="106.7" r="1.6" fill="#ccc" stroke="#888" stroke-width="0.6"/><circle cx="477.5" cy="115" r="1.6" fill="#ccc" stroke="#888" stroke-width="0.6"/></g>
<clipPath id="pc"><rect x="118.5" y="0" width="563" height="800"/></clipPath>
<mask id="hm" maskUnits="userSpaceOnUse" x="0" y="0" width="800" height="800"><rect width="800" height="800" fill="#fff"/><rect x="170" y="126" width="458" height="246" fill="#9c9c9c"/><rect x="171" y="408" width="458" height="246" fill="#9c9c9c"/></mask>
</defs>
<rect x="170.80" y="126.70" width="456.60" height="244.80" fill="none" stroke="#505050" stroke-width="1.2" stroke-dasharray="1.6 2.2"/><path d="M323.40 126.70V371.50M475.10 126.70V371.50M170.80 249.20H627.40" fill="none" stroke="#8a8a8a" stroke-width="1.1" stroke-dasharray="1.5 2.3"/><rect x="171.60" y="408.30" width="456.60" height="244.50" fill="none" stroke="#505050" stroke-width="1.2" stroke-dasharray="1.6 2.2"/><path d="M324.00 408.30V652.80M475.70 408.30V652.80M171.60 530.30H628.20" fill="none" stroke="#8a8a8a" stroke-width="1.1" stroke-dasharray="1.5 2.3"/>
<use href="#blk"/>
<use href="#blk" transform="matrix(0.99437 0 0 0.99254 2.5 282.73)"/>
<g clip-path="url(#pc)"><g mask="url(#hm)"><g fill="none" stroke="#9a9a9a" stroke-width="2.2" stroke-dasharray="4.6 5.2" opacity="0.45"><path d="M229.1 44.0L190.1 -27.2M106.1 115.2L190.1 115.2M190.1 115.2L229.1 44.0M229.1 186.4L190.1 115.2M106.1 257.6L190.1 257.6M190.1 257.6L229.1 186.4M229.1 328.8L190.1 257.6M106.1 400.0L190.1 400.0M190.1 400.0L229.1 328.8M229.1 471.2L190.1 400.0M106.1 542.4L190.1 542.4M190.1 542.4L229.1 471.2M229.1 613.6L190.1 542.4M106.1 684.8L190.1 684.8M190.1 684.8L229.1 613.6M229.1 756.0L190.1 684.8M190.1 827.2L229.1 756.0M189.3 -27.2L228.3 44.0M228.3 44.0L312.3 44.0M312.3 44.0L351.3 -27.2M351.3 115.2L312.3 44.0M228.3 44.0L189.3 115.2M189.3 115.2L228.3 186.4M228.3 186.4L312.3 186.4M312.3 186.4L351.3 115.2M351.3 257.6L312.3 186.4M228.3 186.4L189.3 257.6M189.3 257.6L228.3 328.8M228.3 328.8L312.3 328.8M312.3 328.8L351.3 257.6M351.3 400.0L312.3 328.8M228.3 328.8L189.3 400.0M189.3 400.0L228.3 471.2M228.3 471.2L312.3 471.2M312.3 471.2L351.3 400.0M351.3 542.4L312.3 471.2M228.3 471.2L189.3 542.4M189.3 542.4L228.3 613.6M228.3 613.6L312.3 613.6M312.3 613.6L351.3 542.4M351.3 684.8L312.3 613.6M228.3 613.6L189.3 684.8M189.3 684.8L228.3 756.0M228.3 756.0L312.3 756.0M312.3 756.0L351.3 684.8M351.3 827.2L312.3 756.0M228.3 756.0L189.3 827.2M473.5 44.0L434.5 -27.2M350.5 -27.2L311.5 44.0M311.5 44.0L350.5 115.2M350.5 115.2L434.5 115.2M434.5 115.2L473.5 44.0M473.5 186.4L434.5 115.2M350.5 115.2L311.5 186.4M311.5 186.4L350.5 257.6M350.5 257.6L434.5 257.6M434.5 257.6L473.5 186.4M473.5 328.8L434.5 257.6M350.5 257.6L311.5 328.8M311.5 328.8L350.5 400.0M350.5 400.0L434.5 400.0M434.5 400.0L473.5 328.8M473.5 471.2L434.5 400.0M350.5 400.0L311.5 471.2M311.5 471.2L350.5 542.4M350.5 542.4L434.5 542.4M434.5 542.4L473.5 471.2M473.5 613.6L434.5 542.4M350.5 542.4L311.5 613.6M311.5 613.6L350.5 684.8M350.5 684.8L434.5 684.8M434.5 684.8L473.5 613.6M473.5 756.0L434.5 684.8M350.5 684.8L311.5 756.0M311.5 756.0L350.5 827.2M434.5 827.2L473.5 756.0M433.7 -27.2L472.7 44.0M472.7 44.0L556.7 44.0M556.7 44.0L595.7 -27.2M595.7 115.2L556.7 44.0M472.7 44.0L433.7 115.2M433.7 115.2L472.7 186.4M472.7 186.4L556.7 186.4M556.7 186.4L595.7 115.2M595.7 257.6L556.7 186.4M472.7 186.4L433.7 257.6M433.7 257.6L472.7 328.8M472.7 328.8L556.7 328.8M556.7 328.8L595.7 257.6M595.7 400.0L556.7 328.8M472.7 328.8L433.7 400.0M433.7 400.0L472.7 471.2M472.7 471.2L556.7 471.2M556.7 471.2L595.7 400.0M595.7 542.4L556.7 471.2M472.7 471.2L433.7 542.4M433.7 542.4L472.7 613.6M472.7 613.6L556.7 613.6M556.7 613.6L595.7 542.4M595.7 684.8L556.7 613.6M472.7 613.6L433.7 684.8M433.7 684.8L472.7 756.0M472.7 756.0L556.7 756.0M556.7 756.0L595.7 684.8M595.7 827.2L556.7 756.0M472.7 756.0L433.7 827.2M717.9 44.0L678.9 -27.2M594.9 -27.2L555.9 44.0M555.9 44.0L594.9 115.2M594.9 115.2L678.9 115.2M678.9 115.2L717.9 44.0M717.9 186.4L678.9 115.2M594.9 115.2L555.9 186.4M555.9 186.4L594.9 257.6M594.9 257.6L678.9 257.6M678.9 257.6L717.9 186.4M717.9 328.8L678.9 257.6M594.9 257.6L555.9 328.8M555.9 328.8L594.9 400.0M594.9 400.0L678.9 400.0M678.9 400.0L717.9 328.8M717.9 471.2L678.9 400.0M594.9 400.0L555.9 471.2M555.9 471.2L594.9 542.4M594.9 542.4L678.9 542.4M678.9 542.4L717.9 471.2M717.9 613.6L678.9 542.4M594.9 542.4L555.9 613.6M555.9 613.6L594.9 684.8M594.9 684.8L678.9 684.8M678.9 684.8L717.9 613.6M717.9 756.0L678.9 684.8M594.9 684.8L555.9 756.0M555.9 756.0L594.9 827.2M678.9 827.2L717.9 756.0M678.1 -27.2L717.1 44.0M717.1 44.0L678.1 115.2M678.1 115.2L717.1 186.4M717.1 186.4L678.1 257.6M678.1 257.6L717.1 328.8M717.1 328.8L678.1 400.0M678.1 400.0L717.1 471.2M717.1 471.2L678.1 542.4M678.1 542.4L717.1 613.6M717.1 613.6L678.1 684.8M678.1 684.8L717.1 756.0M717.1 756.0L678.1 827.2"/></g></g></g>
<use href="#bee" transform="translate(470.9 106.7) scale(1.000) translate(-470.9 -106.7)"/><use href="#bee" transform="translate(239.8 251.5) scale(0.680) translate(-470.9 -106.7)"/><use href="#bee" transform="translate(469.0 394.4) scale(1.000) translate(-470.9 -106.7)"/><use href="#bee" transform="translate(242.8 535.7) scale(0.680) translate(-470.9 -106.7)"/><use href="#bee" transform="translate(473.5 667.8) scale(1.000) translate(-470.9 -106.7)"/>
<g id="ovl"><rect x="236" y="244.3" width="62" height="9.4" fill="#fff" opacity="0.5"/><path d="M235.4 249.2H298" fill="none" stroke="#8a8a8a" stroke-width="1.1" stroke-dasharray="1.5 2.3"/><path d="M235 242.6H300M235 255.4H300" fill="none" stroke="#a82d78" stroke-width="2.9"/></g>
<use href="#ovl" transform="matrix(0.99437 0 0 0.99254 2.5 282.73)"/>
</svg>
</div></body></html>
